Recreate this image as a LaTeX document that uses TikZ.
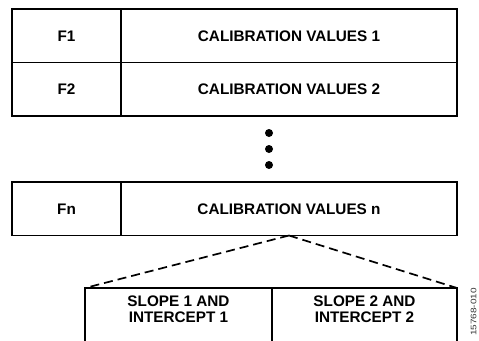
\documentclass[tikz,border=0pt]{standalone}
\usepackage{fontspec}
\setmainfont{Liberation Sans}
\usetikzlibrary{positioning}

\begin{document}
\begin{tikzpicture}[
        x=1pt, y=1pt,
        node distance=0pt,
        cell/.style={
            rectangle, draw=black, line width=1.7pt, inner sep=0pt, outer sep=0pt,
            minimum height=53.5pt, align=center, font=\bfseries\fontsize{15.3}{17}\selectfont
        },
        key/.style={cell, minimum width=109pt},
        val/.style={cell, minimum width=336pt},
        dot/.style={circle, fill=black, inner sep=0pt, minimum size=8pt},
        zoomline/.style={dashed, dash pattern=on 9pt off 5pt, line width=1.7pt}
    ]
        \useasboundingbox (0,0) rectangle (479,-340);

        % Top rows
        \node[key, anchor=north west] (f1) at (12,-9) {F1};
        \node[val, right=of f1] (cal1) {CALIBRATION VALUES 1};
        \node[key, below=of f1] (f2) {F2};
        \node[val, right=of f2] (cal2) {CALIBRATION VALUES 2};

        % Ellipsis
        \foreach \y [count=\i] in {133,149,165}
            \node[dot] (dot\i) at (269,-\y) {};

        % Last row
        \node[key, anchor=north west] (fn) at (12,-182) {Fn};
        \node[val, right=of fn] (caln) {CALIBRATION VALUES n};

        % Expanded entry (runs off the bottom edge)
        \node[cell, anchor=north west, minimum width=187pt, minimum height=62pt] (slope1) at (85,-288) {};
        \node[cell, right=of slope1, minimum width=185pt, minimum height=62pt] (slope2) {};
        \node[font=\bfseries\fontsize{15.3}{16.5}\selectfont, align=center] (slope1txt)
            at ([yshift=-21pt]slope1.north) {SLOPE 1 AND\\INTERCEPT 1};
        \node[font=\bfseries\fontsize{15.3}{16.5}\selectfont, align=center] (slope2txt)
            at ([yshift=-21pt]slope2.north) {SLOPE 2 AND\\INTERCEPT 2};

        % Zoom lines
        \draw[zoomline] (caln.south) -- (slope1.north west);
        \draw[zoomline] (caln.south) -- (slope2.north east);

        \node[rotate=90, inner sep=0pt, text=black!80, font=\fontsize{8}{9}\selectfont] (tag)
            at (473.5,-312) {\scalebox{1.25}[1]{15768-010}};
    \end{tikzpicture}
\end{document}
